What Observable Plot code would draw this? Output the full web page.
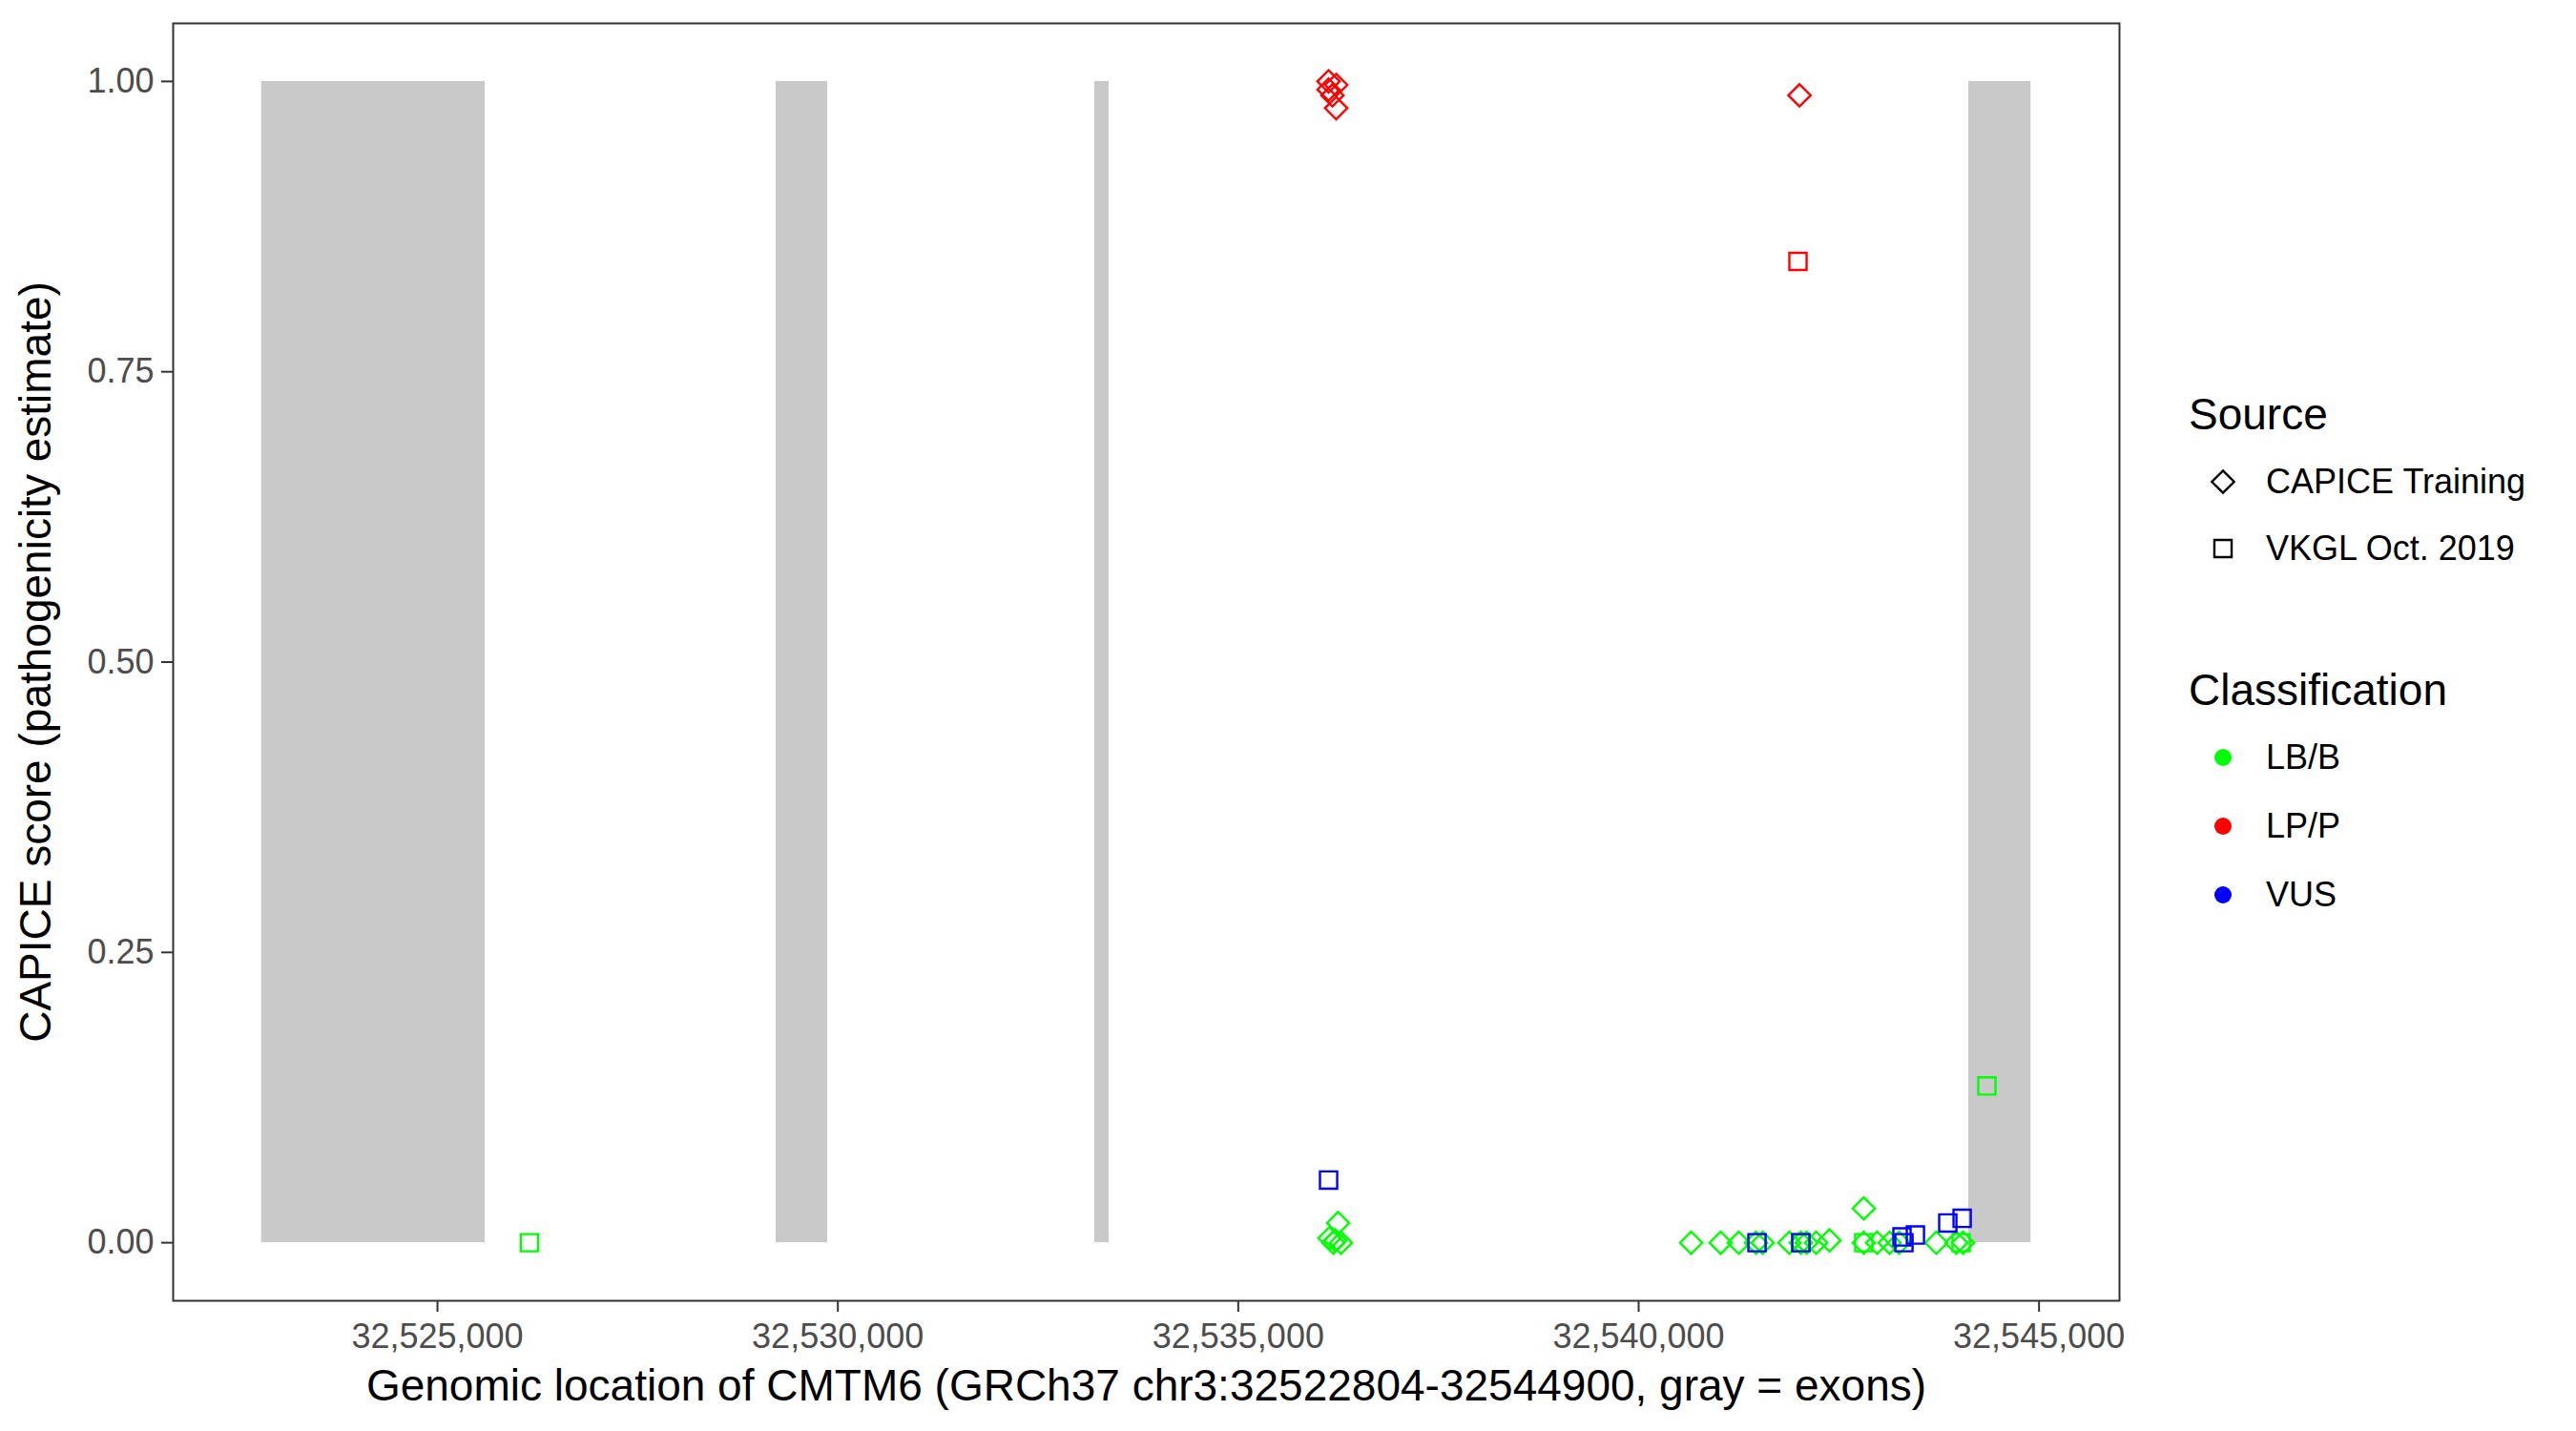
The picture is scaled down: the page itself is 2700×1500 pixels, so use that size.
<!DOCTYPE html>
<html>
<head>
<meta charset="utf-8">
<script src="https://cdn.jsdelivr.net/npm/d3@7"></script>
<script src="https://cdn.jsdelivr.net/npm/@observablehq/plot@0.6"></script>
<style>
  html, body { margin: 0; padding: 0; background: #ffffff; }
  body { font-family: "Liberation Sans", Arial, Helvetica, sans-serif; }
  #wrap { position: relative; width: 2700px; height: 1500px; overflow: hidden; }
  #chart { position: absolute; left: 0; top: 0; }
  #legend { position: absolute; left: 2294px; top: 407px; color: #000; }
  .lg-title { font-size: 46px; line-height: 54px; height: 54px; white-space: nowrap; }
  .lg-row { display: flex; align-items: center; white-space: nowrap; font-size: 36px; }
  .lg-row svg { display: block; }
  .lg-row span { padding-left: 9px; }
  g[aria-label="x-axis label"], g[aria-label="y-axis label"] { fill: #000000; font-size: 46px; }
</style>
</head>
<body>
<div id="wrap">
  <div id="chart"></div>
  <div id="legend"></div>
</div>
<script>
// ---------------- data ----------------
const exonStart = [32522804, 32529229, 32533209, 32544123];
const exonEnd   = [32525595, 32529873, 32533388, 32544900];

const classes = ["LB/B", "LP/P", "VUS"];
const classColors = ["#00ff00", "#ff0000", "#0000ff"];
const sources = ["CAPICE Training", "VKGL Oct. 2019"];

// CAPICE Training (diamonds)
const trainLBBPos = [32536140, 32536188, 32536247, 32536283, 32536212,
  32540656, 32541025, 32541251, 32541466, 32541549, 32541883, 32542026, 32542097,
  32542217, 32542383, 32542812, 32542812, 32542979, 32543134, 32543253, 32543718,
  32543968, 32544052];
const trainLBBScore = [0.004, 0, 0.017, 0, 0.002,
  0, 0, 0, 0, 0, 0, 0, 0,
  0, 0.002, 0.0295, 0, 0, 0, 0, 0,
  0, 0];
const trainLPPPos = [32536128, 32536223, 32536128, 32536176, 32536223, 32542009];
const trainLPPScore = [1.0, 0.997, 0.993, 0.988, 0.977, 0.988];

// VKGL Oct. 2019 (squares)
const vkglLBBPos = [32526149, 32542026, 32542812, 32544027, 32544349];
const vkglLBBScore = [0, 0, 0, 0, 0.135];
const vkglLPPPos = [32541990];
const vkglLPPScore = [0.845];
const vkglVUSPos = [32536128, 32541478, 32542026, 32543289, 32543313, 32543456, 32543861, 32544040];
const vkglVUSScore = [0.054, 0, 0, 0.005, 0, 0.0066, 0.017, 0.021];

const xTicks = [32525000, 32530000, 32535000, 32540000, 32545000];
const yTicks = [0, 0.25, 0.5, 0.75, 1];
const xTitle = "Genomic location of CMTM6 (GRCh37 chr3:32522804-32544900, gray = exons)";
const yTitle = "CAPICE score (pathogenicity estimate)";

// ---------------- tables ----------------
const exons = exonStart.map((s, i) => ({start: s, end: exonEnd[i]}));
function rows(pos, score, cls, src) {
  return pos.map((p, i) => ({pos: p, score: score[i], cls, src}));
}
const training = [
  ...rows(trainLBBPos, trainLBBScore, "LB/B", sources[0]),
  ...rows(trainLPPPos, trainLPPScore, "LP/P", sources[0])
];
const vkgl = [
  ...rows(vkglLBBPos, vkglLBBScore, "LB/B", sources[1]),
  ...rows(vkglLPPPos, vkglLPPScore, "LP/P", sources[1]),
  ...rows(vkglVUSPos, vkglVUSScore, "VUS", sources[1])
];

// ---------------- chart ----------------
const geneStart = 32522804, geneEnd = 32544900;
const pad = (geneEnd - geneStart) * 0.05;

const chart = Plot.plot({
  width: 2260,
  height: 1500,
  marginLeft: 181,
  marginRight: 39,
  marginTop: 24,
  marginBottom: 137,
  style: {fontFamily: "'Liberation Sans', Arial, Helvetica, sans-serif", fontSize: "36px", background: "#ffffff", overflow: "visible"},
  x: {domain: [geneStart - pad, geneEnd + pad]},
  y: {domain: [-0.05, 1.05]},
  color: {domain: classes, range: classColors},
  marks: [
    Plot.rect(exons, {x1: "start", x2: "end", y1: 0, y2: 1, fill: "#c9c9c9"}),
    Plot.dot(training, {x: "pos", y: "score", stroke: "cls", symbol: "diamond2", r: 10.5, strokeWidth: 2.4}),
    Plot.dot(vkgl, {x: "pos", y: "score", stroke: "cls", symbol: "square2", r: 11.5, strokeWidth: 2.4}),
    Plot.frame({stroke: "#333333", strokeWidth: 2}),
    Plot.axisX({
      ticks: xTicks, tickFormat: d3.format(","), tickSize: 12, tickPadding: 12,
      stroke: "#333333", strokeWidth: 2, fill: "#4d4d4d", fontSize: 36,
      label: xTitle, labelAnchor: "center", labelArrow: "none", labelOffset: 104
    }),
    Plot.axisY({
      ticks: yTicks, tickFormat: d3.format(".2f"), tickSize: 12, tickPadding: 8,
      stroke: "#333333", strokeWidth: 2, fill: "#4d4d4d", fontSize: 36,
      label: yTitle, labelAnchor: "center", labelArrow: "none", labelOffset: 161
    })
  ]
});
document.getElementById("chart").appendChild(chart);

// ---------------- legend ----------------
const legend = d3.select("#legend");
function symbolRow(parent, symbolType, r, label, marginTop) {
  const row = parent.append("div").attr("class", "lg-row").style("height", "70px").style("margin-top", marginTop + "px");
  const svg = row.append("svg").attr("width", 72).attr("height", 70);
  svg.append("path")
    .attr("transform", "translate(36,35)")
    .attr("d", d3.symbol(symbolType, Math.PI * r * r)())
    .attr("fill", "none").attr("stroke", "#000").attr("stroke-width", 2.4);
  row.append("span").text(label);
}
function dotRow(parent, color, label, marginTop) {
  const row = parent.append("div").attr("class", "lg-row").style("height", "72px").style("margin-top", marginTop + "px");
  const svg = row.append("svg").attr("width", 72).attr("height", 72);
  svg.append("circle").attr("cx", 36).attr("cy", 36).attr("r", 9).attr("fill", color);
  row.append("span").text(label);
}
legend.append("div").attr("class", "lg-title").text("Source");
symbolRow(legend, d3.symbolDiamond2, 10.5, sources[0], 9);
symbolRow(legend, d3.symbolSquare2, 11.5, sources[1], 0);
legend.append("div").attr("class", "lg-title").style("margin-top", "86px").text("Classification");
classes.forEach((c, i) => dotRow(legend, classColors[i], c, i === 0 ? 8 : 0));
</script>
</body>
</html>
